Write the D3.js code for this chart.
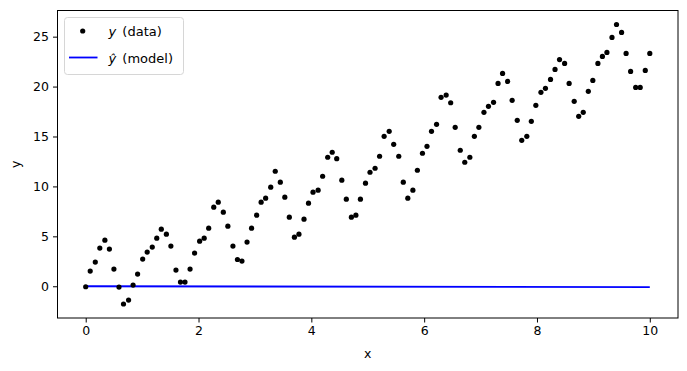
<!DOCTYPE html>
<html>
<head>
<meta charset="utf-8">
<script src="https://cdn.jsdelivr.net/npm/d3@7"></script>
<style>
  body { margin: 0; background: #fff; }
  text { font-family: "DejaVu Sans", sans-serif; }
</style>
</head>
<body>
<div id="chart"></div>
<script>
// sample positions (x) and measured values (y)
var xs = [
  0.00, 0.08, 0.17, 0.25, 0.34, 0.42, 0.50, 0.59, 0.67, 0.76,
  0.84, 0.92, 1.01, 1.09, 1.18, 1.26, 1.34, 1.43, 1.51, 1.60,
  1.68, 1.76, 1.85, 1.93, 2.02, 2.10, 2.18, 2.27, 2.35, 2.44,
  2.52, 2.61, 2.69, 2.77, 2.86, 2.94, 3.03, 3.11, 3.19, 3.28,
  3.36, 3.45, 3.53, 3.61, 3.70, 3.78, 3.87, 3.95, 4.03, 4.12,
  4.20, 4.29, 4.37, 4.45, 4.54, 4.62, 4.71, 4.79, 4.87, 4.96,
  5.04, 5.13, 5.21, 5.29, 5.38, 5.46, 5.55, 5.63, 5.71, 5.80,
  5.88, 5.97, 6.05, 6.13, 6.22, 6.30, 6.39, 6.47, 6.55, 6.64,
  6.72, 6.81, 6.89, 6.97, 7.06, 7.14, 7.23, 7.31, 7.39, 7.48,
  7.56, 7.65, 7.73, 7.82, 7.90, 7.98, 8.07, 8.15, 8.24, 8.32,
  8.40, 8.49, 8.57, 8.66, 8.74, 8.82, 8.91, 8.99, 9.08, 9.16,
  9.24, 9.33, 9.41, 9.50, 9.58, 9.66, 9.75, 9.83, 9.92, 10.00
];
var ys = [
  -0.05, 1.52, 2.42, 3.82, 4.62, 3.72, 1.72, -0.08, -1.78, -1.38,
  0.12, 1.22, 2.72, 3.42, 3.92, 4.82, 5.72, 5.22, 4.02, 1.62,
  0.42, 0.42, 1.72, 3.32, 4.52, 4.82, 5.82, 7.92, 8.42, 7.42,
  6.02, 4.02, 2.68, 2.52, 4.42, 5.82, 7.12, 8.42, 8.82, 9.92,
  11.52, 10.42, 8.92, 6.92, 4.92, 5.22, 6.72, 8.32, 9.42, 9.62,
  11.02, 12.92, 13.42, 12.78, 10.62, 8.72, 6.92, 7.12, 8.72, 10.32,
  11.42, 11.82, 13.02, 15.02, 15.52, 14.22, 13.02, 10.42, 8.82, 9.62,
  11.62, 13.32, 14.02, 15.52, 16.22, 18.92, 19.15, 18.38, 15.92, 13.62,
  12.42, 12.92, 15.02, 15.92, 17.42, 18.02, 18.42, 20.32, 21.32, 20.52,
  18.62, 16.62, 14.62, 15.02, 16.52, 18.12, 19.42, 19.82, 20.72, 21.72,
  22.70, 22.32, 20.32, 18.52, 17.02, 17.42, 19.52, 20.62, 22.32, 23.02,
  23.42, 24.92, 26.22, 25.42, 23.32, 21.52, 19.92, 19.92, 21.62, 23.32
];
// model line end points
var model_x = [0, 10];
var model_y = [0.0, -0.08];

var x_ticks = [0, 2, 4, 6, 8, 10];
var y_ticks = [0, 5, 10, 15, 20, 25];


// Create SVG Element
var chart_width  = 687;
var chart_height = 371;
var plot = { left: 57.5, top: 10.5, right: 678, bottom: 318 };
var font_size = 12.5;

var svg = d3.select('#chart')
  .append('svg')
  .attr('width', chart_width)
  .attr('height', chart_height);


// scales, with matplotlib-like 5% margins
var x_min = d3.min(xs), x_max = d3.max(xs);
var y_min = d3.min(ys), y_max = d3.max(ys);
var x_pad = (x_max - x_min) * 0.05;
var y_pad = (y_max - y_min) * 0.05;

var x_scale = d3.scaleLinear()
  .domain([x_min - x_pad, x_max + x_pad])
  .range([plot.left, plot.right]);

var y_scale = d3.scaleLinear()
  .domain([y_min - y_pad, y_max + y_pad])
  .range([plot.bottom, plot.top]);


// axes
var x_axis = d3.axisBottom(x_scale)
  .tickValues(x_ticks)
  .tickSize(4.5)
  .tickPadding(4)
  .tickFormat(d3.format('d'));

var y_axis = d3.axisLeft(y_scale)
  .tickValues(y_ticks)
  .tickSize(4.5)
  .tickPadding(4)
  .tickFormat(d3.format('d'));

var gx = svg.append('g')
  .attr('transform', 'translate(0,' + plot.bottom + ')')
  .call(x_axis);

var gy = svg.append('g')
  .attr('transform', 'translate(' + plot.left + ',0)')
  .call(y_axis);

[gx, gy].forEach(function(g){
  g.select('.domain').remove();
  g.selectAll('line').attr('stroke', '#000').attr('stroke-width', 1);
  g.selectAll('text')
    .attr('font-size', font_size)
    .attr('fill', '#000')
    .style('font-family', '"DejaVu Sans", sans-serif');
});

// axes frame
svg.append('rect')
  .attr('x', plot.left)
  .attr('y', plot.top)
  .attr('width', plot.right - plot.left)
  .attr('height', plot.bottom - plot.top)
  .attr('fill', 'none')
  .attr('stroke', '#000')
  .attr('stroke-width', 1);

// axis labels
svg.append('text')
  .text('x')
  .attr('x', (plot.left + plot.right) / 2)
  .attr('y', 358)
  .attr('font-size', font_size)
  .attr('text-anchor', 'middle');

svg.append('text')
  .text('y')
  .attr('transform', 'translate(19.5,' + ((plot.top + plot.bottom) / 2) + ') rotate(-90)')
  .attr('font-size', font_size)
  .attr('text-anchor', 'middle');


// model line
var model = d3.zip(model_x, model_y);
var line = d3.line()
  .x(function(d){ return x_scale(d[0]); })
  .y(function(d){ return y_scale(d[1]); });

svg.append('path')
  .datum(model)
  .attr('d', line)
  .attr('fill', 'none')
  .attr('stroke', '#0000ff')
  .attr('stroke-width', 1.8);


// data points
svg.selectAll('circle.pt')
  .data(d3.zip(xs, ys))
  .enter()
  .append('circle')
  .attr('class', 'pt')
  .attr('cx', function(d){ return x_scale(d[0]); })
  .attr('cy', function(d){ return y_scale(d[1]); })
  .attr('r', 2.6)
  .attr('fill', '#000');


// legend
var lg = svg.append('g').attr('transform', 'translate(64.5,17.5)');

lg.append('rect')
  .attr('width', 119)
  .attr('height', 57)
  .attr('rx', 3)
  .attr('fill', '#fff')
  .attr('fill-opacity', 0.8)
  .attr('stroke', '#d6d6d6')
  .attr('stroke-width', 1);

lg.append('circle')
  .attr('cx', 18.2)
  .attr('cy', 13.5)
  .attr('r', 2.6)
  .attr('fill', '#000');

lg.append('line')
  .attr('x1', 4.5)
  .attr('x2', 33)
  .attr('y1', 40)
  .attr('y2', 40)
  .attr('stroke', '#0000ff')
  .attr('stroke-width', 1.8);

var t1 = lg.append('text')
  .attr('x', 44)
  .attr('y', 18)
  .attr('font-size', 13);
t1.append('tspan').attr('font-style', 'italic').text('y');
t1.append('tspan').attr('dx', 2).text(' (data)');

var t2 = lg.append('text')
  .attr('x', 44)
  .attr('y', 45)
  .attr('font-size', 13);
t2.append('tspan').attr('font-style', 'italic').text('ŷ');
t2.append('tspan').attr('dx', 2).text(' (model)');
</script>
</body>
</html>
